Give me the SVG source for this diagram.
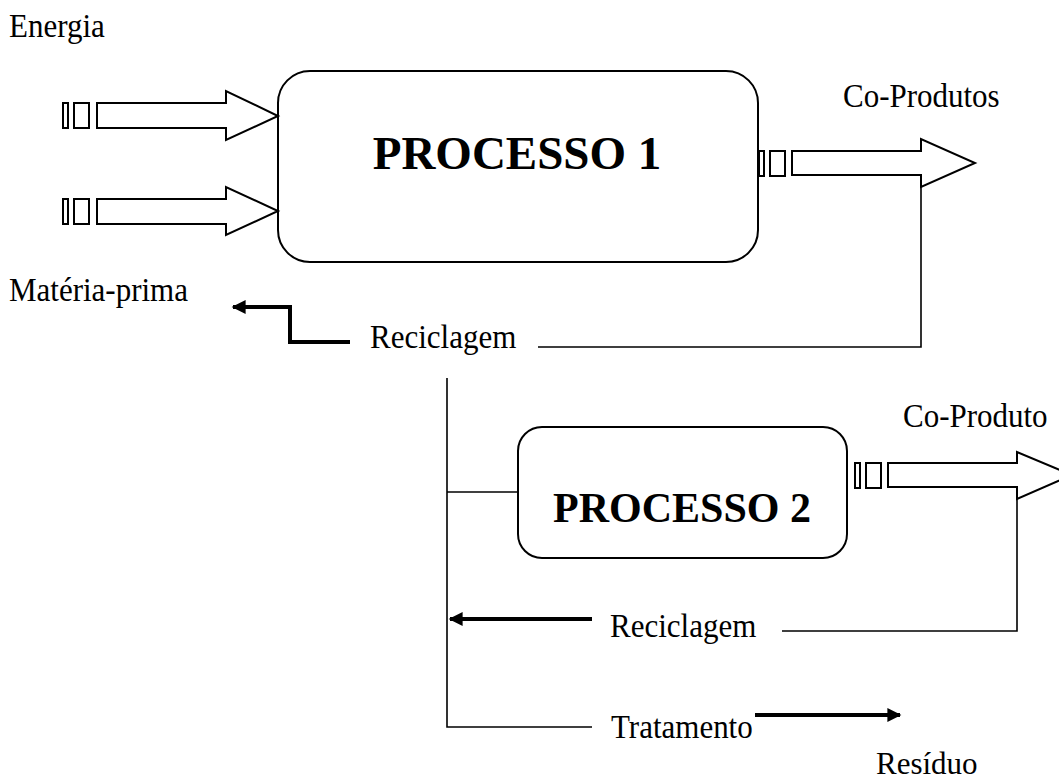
<svg xmlns="http://www.w3.org/2000/svg" width="1059" height="783" viewBox="0 0 1059 783">
  <style>
    .lbl { font-family: "Liberation Serif", "Times New Roman", serif; font-size: 31px; fill: #000; }
    .title { font-family: "Liberation Serif", "Times New Roman", serif; font-weight: bold; fill: #000; }
    .box { fill: #fff; stroke: #000; stroke-width: 2; }
    .block { fill: #fff; stroke: #000; stroke-width: 2; stroke-linejoin: miter; }
    .thin { fill: none; stroke: #000; stroke-width: 1.6; }
    .thick { fill: none; stroke: #000; stroke-width: 4; }
  </style>
  <defs>
    <marker id="head" viewBox="0 0 10 10" refX="9" refY="5" markerWidth="4.4" markerHeight="3.5" markerUnits="strokeWidth" orient="auto">
      <path d="M0,0 L10,5 L0,10 Z" fill="#000"/>
    </marker>
    <!-- striped tail placed in front of each block arrow -->
    <g id="tail">
      <rect x="0" y="0" width="5" height="25" class="block"/>
      <rect x="11" y="0" width="15" height="25" class="block"/>
    </g>
  </defs>
  <rect width="1059" height="783" fill="#fff"/>

  <!-- free labels -->
  <g id="labels">
    <text class="lbl" transform="translate(9,37) scale(1,1.08)">Energia</text>
    <text class="lbl" transform="translate(9,301) scale(1,1.08)">Matéria-prima</text>
    <text class="lbl" transform="translate(843,107) scale(1,1.08)">Co-Produtos</text>
    <text class="lbl" transform="translate(903,427) scale(1,1.08)">Co-Produto</text>
    <text class="lbl" transform="translate(876,774) scale(1,1.04)">Resíduo</text>
  </g>

  <!-- process 1 -->
  <g id="processo1">
    <rect class="box" x="278" y="71" width="480" height="191" rx="32" ry="32"/>
    <text class="title" x="517" y="169" font-size="47" text-anchor="middle">PROCESSO 1</text>
  </g>

  <!-- process 2 -->
  <g id="processo2">
    <rect class="box" x="518" y="427" width="329" height="131" rx="24" ry="24"/>
    <text class="title" x="682" y="522" font-size="42" text-anchor="middle">PROCESSO 2</text>
  </g>

  <g id="connectors">
    <!-- inputs to process 1 -->
    <use href="#tail" x="63" y="103"/>
    <polygon class="block" points="97,103 226,103 226,91 278,116 226,140 226,128 97,128"/>
    <use href="#tail" x="63" y="199"/>
    <polygon class="block" points="97,199 226,199 226,187 278,211 226,235 226,224 97,224"/>

    <!-- co-products out of process 1 -->
    <use href="#tail" x="759" y="151"/>
    <polygon class="block" points="792,151 921,151 921,139 975,163 921,187 921,175 792,175"/>

    <!-- co-product out of process 2 -->
    <use href="#tail" x="855" y="463"/>
    <polygon class="block" points="888,463 1017,463 1017,452 1072,475 1017,499 1017,487 888,487"/>

    <!-- recycling loop of process 1 -->
    <polyline class="thin" points="921,187 921,347 538,347"/>
    <text class="lbl" transform="translate(370,348) scale(1,1.08)">Reciclagem</text>
    <polyline class="thick" points="350,342 290,342 290,307 233,307" marker-end="url(#head)"/>

    <!-- trunk feeding process 2 -->
    <polyline class="thin" points="447,378 447,727 592,727"/>
    <line class="thin" x1="447" y1="492" x2="518" y2="492"/>

    <!-- recycling loop of process 2 -->
    <polyline class="thin" points="1017,499 1017,631 782,631"/>
    <text class="lbl" transform="translate(610,637) scale(1,1.08)">Reciclagem</text>
    <line class="thick" x1="592" y1="619" x2="450" y2="619" marker-end="url(#head)"/>

    <!-- treatment -->
    <text class="lbl" transform="translate(611,738) scale(1,1.08)">Tratamento</text>
    <line class="thick" x1="755" y1="715" x2="900" y2="715" marker-end="url(#head)"/>
  </g>
</svg>
